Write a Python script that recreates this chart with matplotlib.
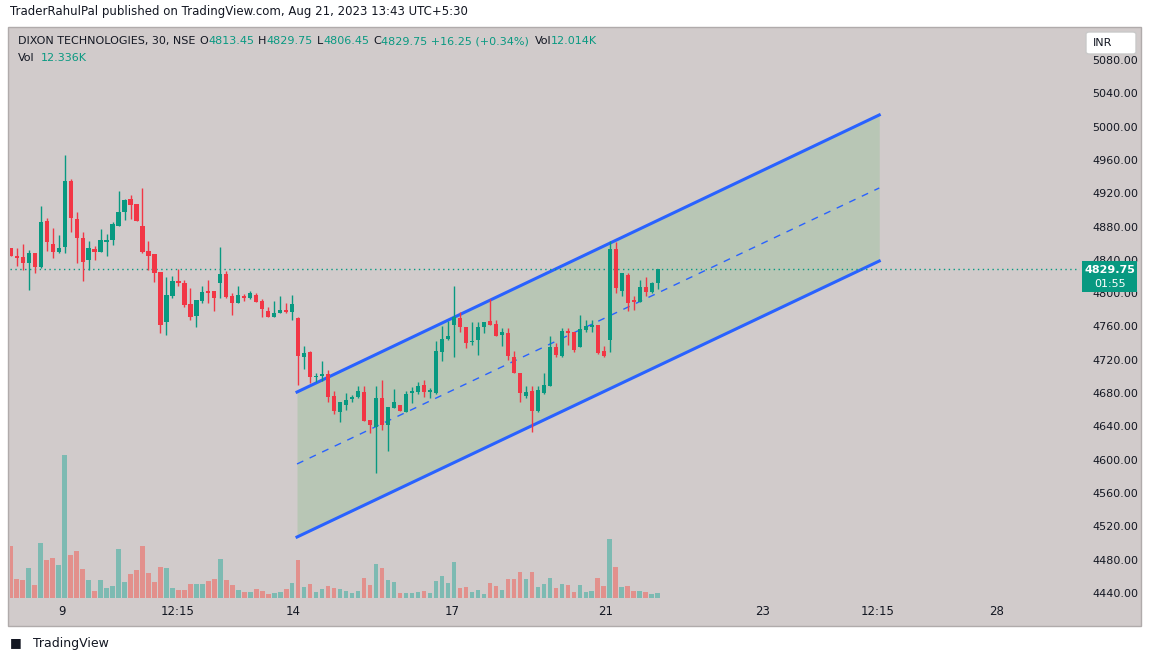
import matplotlib
matplotlib.use("Agg")
import matplotlib.pyplot as plt
from matplotlib.patches import Rectangle, FancyBboxPatch
import numpy as np

W, H = 1151, 661

opens = [4855,4846,4845,4838,4849,4833,4888,4860,4851,4857,4936,4890,4867,4841,4854,4851,4863,4865,4882,4899,
         4914,4908,4882,4852,4848,4827,4766,4798,4816,4813,4788,4774,4792,4804,4804,4814,4824,4798,4790,4798,
         4796,4799,4792,4780,4773,4777,4781,4779,4771,4725,4731,4700,4702,4704,4678,4658,4667,4674,4676,4683,
         4649,4640,4675,4643,4663,4667,4659,4681,4683,4691,4683,4681,4731,4746,4763,4771,4761,4743,4745,4761,
         4768,4764,4751,4753,4725,4705,4678,4684,4660,4681,4690,4736,4726,4756,4755,4736,4757,4761,4763,4732,
         4745,4854,4804,4823,4793,4791,4809,4803,4813.45]
closes = [4846,4843,4838,4849,4833,4887,4863,4851,4855,4936,4892,4867,4839,4855,4851,4865,4865,4884,4899,4913,
          4907,4888,4851,4846,4825,4763,4799,4816,4813,4787,4773,4793,4803,4802,4795,4824,4797,4790,4799,4796,
          4801,4791,4782,4773,4777,4781,4779,4788,4726,4729,4700,4702,4704,4677,4660,4671,4673,4677,4684,4648,
          4643,4675,4643,4665,4670,4660,4680,4684,4690,4683,4685,4732,4746,4750,4772,4761,4741,4744,4761,4767,
          4763,4750,4755,4726,4705,4681,4683,4660,4685,4691,4737,4727,4756,4753,4733,4758,4762,4763,4729,4726,
          4854,4808,4825,4790,4791,4809,4803,4814,4829.75]
highs = [4855,4856,4860,4853,4849,4906,4891,4879,4871,4967,4938,4899,4875,4864,4858,4878,4872,4887,4924,4914,
         4919,4908,4927,4864,4848,4827,4821,4822,4830,4817,4807,4793,4810,4817,4804,4857,4828,4801,4810,4800,
         4804,4801,4794,4785,4792,4798,4789,4799,4773,4738,4732,4705,4720,4709,4684,4671,4681,4679,4690,4690,
         4649,4690,4697,4665,4686,4667,4684,4689,4695,4697,4687,4744,4762,4768,4810,4779,4761,4767,4767,4767,
         4794,4769,4759,4759,4732,4705,4690,4690,4690,4705,4750,4741,4759,4759,4755,4775,4769,4769,4763,4738,
         4864,4863,4826,4825,4798,4817,4821,4815,4829.75]
lows = [4846,4834,4829,4805,4826,4831,4852,4844,4849,4850,4875,4837,4816,4829,4841,4851,4846,4859,4882,4889,
        4890,4888,4850,4829,4815,4753,4751,4796,4810,4785,4769,4761,4789,4789,4780,4796,4796,4775,4789,4792,
        4794,4791,4772,4773,4773,4777,4777,4769,4691,4710,4693,4695,4696,4670,4656,4646,4661,4670,4675,4648,
        4633,4585,4637,4612,4663,4660,4659,4669,4680,4676,4675,4680,4720,4745,4725,4755,4735,4739,4727,4753,
        4763,4750,4738,4721,4705,4671,4675,4635,4659,4680,4690,4724,4725,4739,4730,4736,4755,4755,4728,4725,
        4730,4802,4798,4780,4781,4791,4798,4801,4806.45]
volumes_k = [136,50,47,78,33,144,100,105,86,377,113,123,76,47,18,47,26,31,128,41,
             62,73,136,65,41,81,78,26,20,20,36,36,36,44,49,102,47,33,20,15,
             15,23,18,10,12,15,23,39,100,28,36,15,23,31,26,23,18,12,18,52,
             33,89,78,47,41,12,12,12,15,18,12,44,57,39,94,26,28,15,20,10,
             39,31,20,49,49,68,49,68,28,36,52,26,36,33,15,33,15,18,52,31,
             155,81,28,31,18,18,15,10,12.336]

tick_pos = [8.6, 27.8, 47.1, 73.7, 99.4, 125.6, 144.8, 164.6]
tick_labels = ["9", "12:15", "14", "17", "21", "23", "12:15", "28"]
price_ticks = list(range(4440, 5081, 40))

chan_x = [47.8, 145.0]
chan_upper = [4682.5, 5015.2]
chan_mid = [4596.1, 4927.5]
chan_lower = [4508.4, 4839.8]
last_price = 4829.75

BG = "#d1cbcb"
GREEN = "#089981"
RED = "#f23645"
VGREEN = "#7dbab2"
VRED = "#e2908c"

fig = plt.figure(figsize=(W/100, H/100), dpi=100, facecolor="white")

def fx(x): return x / W
def fy(y): return 1 - y / H

fig.patches.append(Rectangle((fx(8), fy(626)), fx(1141)-fx(8), fy(27)-fy(626),
                             transform=fig.transFigure, facecolor=BG, edgecolor="#b0abab", lw=1, zorder=-10))

rect = [fx(10), fy(598), fx(1080)-fx(10), fy(28)-fy(598)]
x0 = -0.12
x1 = (1080-10.7)/5.99

axv = fig.add_axes(rect, zorder=1)
axv.set_facecolor("none")
axv.set_ylim(0, 377*570/143)
axv.set_xlim(x0, x1)

ax = fig.add_axes(rect, zorder=2)
ax.set_facecolor("none")
y_top = 5080 + (61-28)*1.2008
y_bot = 5080 - (598-61)*1.2008
ax.set_ylim(y_bot, y_top)
ax.set_xlim(x0, x1)

n = len(opens)
idx = np.arange(n)
up = np.array(closes) >= np.array(opens)
vcol = [VGREEN if u else VRED for u in up]
axv.bar(idx, volumes_k, width=0.75, color=vcol, linewidth=0)

ax.fill_between(chan_x, chan_lower, chan_upper, color="#b6c6b3", alpha=0.9, zorder=1, lw=0)
ax.plot(chan_x, chan_upper, color="#2962ff", lw=2.2, zorder=2)
ax.plot(chan_x, chan_lower, color="#2962ff", lw=2.2, zorder=2)
ax.plot(chan_x, chan_mid, color="#2962ff", lw=1, ls=(0, (5, 5)), zorder=2)

ax.axhline(last_price, color=GREEN, lw=1, ls=(0, (1, 2.5)), zorder=2)

ccol = [GREEN if u else RED for u in up]
ax.vlines(idx, lows, highs, colors=ccol, lw=1, zorder=3)
bottoms = np.minimum(opens, closes)
heights = np.maximum(np.abs(np.array(closes) - np.array(opens)), 1.0)
ax.bar(idx, heights, bottom=bottoms, width=0.7, color=ccol, linewidth=0, zorder=4)

for a in (ax, axv):
    for s in a.spines.values():
        s.set_visible(False)
    a.set_yticks([])
axv.set_xticks([])
ax.set_xticks(tick_pos)
ax.set_xticklabels(tick_labels, fontsize=8.5, color="#131722")
ax.tick_params(axis="x", length=0, pad=5)

for p in price_ticks:
    y = 61 + (5080 - p) / 1.2008
    fig.text(fx(1115), fy(y), f"{p:.2f}", fontsize=8, color="#131722", ha="center", va="center")

fig.patches.append(Rectangle((fx(1082), fy(292)), fx(1137)-fx(1082), fy(261)-fy(292),
                             transform=fig.transFigure, facecolor=GREEN, edgecolor="none", zorder=5))
fig.text(fx(1110), fy(270), f"{last_price:.2f}", fontsize=8, color="white", ha="center", va="center", weight="bold", zorder=6)
fig.text(fx(1110), fy(284), "01:55", fontsize=8, color="white", ha="center", va="center", zorder=6)

fig.patches.append(FancyBboxPatch((fx(1086), fy(54)), fx(1136)-fx(1086), fy(32)-fy(54),
                                  boxstyle="round,pad=0,rounding_size=0.003", transform=fig.transFigure,
                                  facecolor="white", edgecolor="#c9c9c9", lw=1, zorder=5))
fig.text(fx(1103), fy(43), "INR", fontsize=8, color="#131722", ha="center", va="center", zorder=6)

fig.text(fx(10), fy(12), "TraderRahulPal published on TradingView.com, Aug 21, 2023 13:43 UTC+5:30",
         fontsize=8.5, color="#131722", va="center")

parts = [("DIXON TECHNOLOGIES, 30, NSE", "#131722", 4), ("O", "#131722", 0), ("4813.45", GREEN, 4),
         ("H", "#131722", 0), ("4829.75", GREEN, 4), ("L", "#131722", 0), ("4806.45", GREEN, 4),
         ("C", "#131722", 0), ("4829.75 +16.25 (+0.34%)", GREEN, 6), ("Vol", "#131722", 0), ("12.014K", GREEN, 0)]
fig.canvas.draw()
r = fig.canvas.get_renderer()
xpos = 18
for t, c, gap in parts:
    tx = fig.text(fx(xpos), fy(41), t, fontsize=8, color=c, va="center")
    bb = tx.get_window_extent(renderer=r)
    xpos += bb.width + gap
fig.text(fx(18), fy(58), "Vol", fontsize=8, color="#131722", va="center")
fig.text(fx(41), fy(58), "12.336K", fontsize=8, color=GREEN, va="center")

fig.text(fx(10), fy(643), "\u25a0", fontsize=9, color="#131722", va="center")
fig.text(fx(33), fy(643), "TradingView", fontsize=9, color="#131722", va="center")

fig.savefig("out.png", dpi=100, facecolor="white")
